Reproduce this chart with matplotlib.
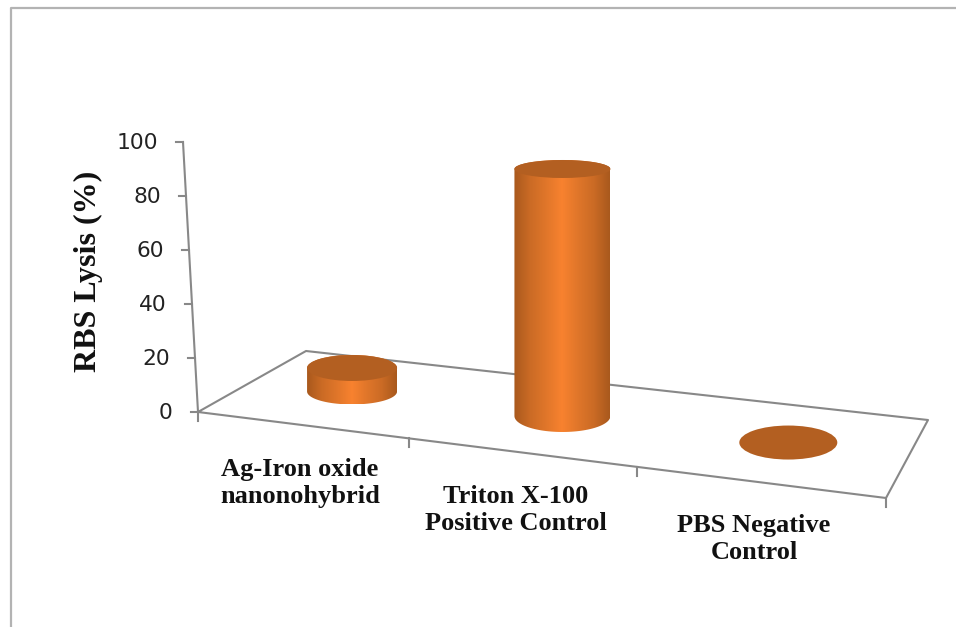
import numpy as np
from matplotlib import pyplot as plt
from matplotlib.colors import LinearSegmentedColormap
from matplotlib.patches import Ellipse, PathPatch
from matplotlib.path import Path

categories = ["Ag-Iron oxide\nnanonohybrid", "Triton X-100\nPositive Control", "PBS Negative\nControl"]
lysis = [9.5, 100, 0]
y_ticks = [0, 20, 40, 60, 80, 100]
y_label = "RBS Lysis (%)"

GREY = "#888888"
TOP = "#b35f21"
body_cmap = LinearSegmentedColormap.from_list(
    "body", ["#a9591d", "#cb6b25", "#e0762a", "#f8822f", "#e0762a", "#cb6b25", "#a9591d"])

# floor corners in pixels: front-left, front-right, back-right, back-left
floor = np.array([[198, 412], [886, 498], [928, 420], [306, 351]], dtype=float)
axis_top = np.array([183, 142], dtype=float)
px_per_unit = 2.47
radius = [(45, 13), (48, 16), (49, 17)]
top_squash = [13, 9, 17]
label_pos = [(300, 483), (516, 510), (754, 539)]


def floor_transform(corners):
    # homography from (u, v) floor units to pixels
    src = [(0, 0), (3, 0), (3, 1), (0, 1)]
    a, b = [], []
    for (u, v), (x, y) in zip(src, corners):
        a.append([u, v, 1, 0, 0, 0, -u * x, -v * x])
        a.append([0, 0, 0, u, v, 1, -u * y, -v * y])
        b += [x, y]
    h = np.append(np.linalg.solve(np.array(a), np.array(b)), 1).reshape(3, 3)

    def project(u, v):
        p = h @ np.array([u, v, 1.0])
        return p[:2] / p[2]
    return project


def axis_point(value):
    return floor[0] + (axis_top - floor[0]) * value / y_ticks[-1]


def half_arc(cx, cy, rx, ry, start, stop):
    t = np.linspace(start, stop, 60)
    return np.column_stack([cx + rx * np.cos(t), cy + ry * np.sin(t)])


def cylinder(ax, cx, base, height, radii, top_ry):
    rx, ry = radii
    top = base - height
    if height > 0:
        # y grows downwards, so 0..pi is the near side of the base
        lower = half_arc(cx, base, rx, ry, 0, np.pi)
        upper = half_arc(cx, top, rx, top_ry, np.pi, 2 * np.pi)
        outline = np.vstack([lower, upper, lower[:1]])
        im = ax.imshow(np.linspace(0, 1, 200)[None, :], cmap=body_cmap, aspect="auto", zorder=3,
                       extent=[cx - rx, cx + rx, base + ry, top - top_ry])
        im.set_clip_path(PathPatch(Path(outline), transform=ax.transData))
    ax.add_patch(Ellipse((cx, top), 2 * rx, 2 * top_ry, fc=TOP, ec="none", zorder=4))


fig = plt.figure(figsize=(9.56, 6.27), dpi=100)
ax = fig.add_axes([0, 0, 1, 1])
project = floor_transform(floor)

# chart frame, only top and left show
ax.plot([11, 11, 956], [627, 8, 8], color="#b3b3b3", lw=1.6, zorder=1)

# floor and value axis
ax.plot(*np.vstack([floor, floor[:1]]).T, color=GREY, lw=1.5, zorder=2)
ax.plot(*np.vstack([floor[0], axis_top]).T, color=GREY, lw=1.5, zorder=2)

for tick in y_ticks:
    x, y = axis_point(tick)
    ax.plot([x - 7, x], [y, y], color=GREY, lw=1.5, zorder=2)
    ax.text(x - 25, y + 1, str(tick), ha="right", va="center", fontsize=15.7,
            family="DejaVu Sans", color="#222222")

for u in range(len(categories) + 1):
    x, y = project(u, 0)
    ax.plot([x, x], [y, y + 9], color=GREY, lw=1.5, zorder=2)

for i, value in enumerate(lysis):
    cx, base = project(i + 0.5, 0.5)
    cylinder(ax, cx - (1.5 if i == 0 else 0), base, value * px_per_unit, radius[i], top_squash[i])

for name, (x, y) in zip(categories, label_pos):
    ax.text(x, y, name, ha="center", va="center", fontsize=19, fontweight="bold",
            family="Liberation Serif", color="#111111", linespacing=1.2)

ax.text(88, 271, y_label, rotation=90, ha="center", va="center", fontsize=23,
        fontweight="bold", family="Liberation Serif", color="#111111")

ax.set_xlim(0, 956)
ax.set_ylim(627, 0)
ax.axis("off")
fig.savefig("out.png", dpi=100, facecolor="white")
